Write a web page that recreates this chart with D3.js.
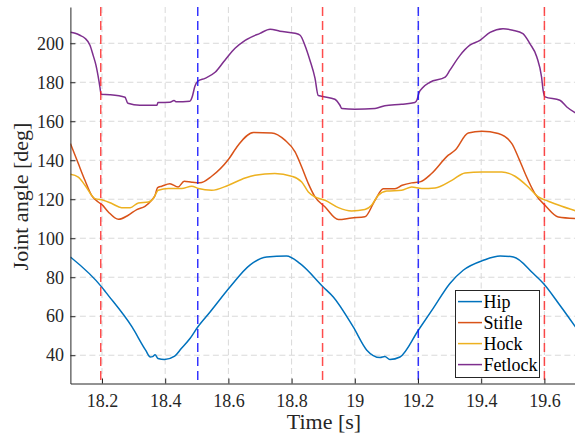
<!DOCTYPE html>
<html>
<head>
<meta charset="utf-8">
<script src="https://cdn.jsdelivr.net/npm/d3@7"></script>
</head>
<body style="margin:0">
<svg id="chart" width="575" height="439"></svg>
<script>
// time [s], angle [deg]
const hip = [
    [18.1, 90.4], [18.2, 74.8], [18.211, 72.5], [18.295, 54.5], [18.338, 42.6], [18.353, 39.1],
    [18.36, 39.3], [18.368, 40.2], [18.377, 38.3], [18.398, 37.8], [18.43, 39.5], [18.451, 43.4],
    [18.479, 48.7], [18.503, 54.5], [18.542, 62.2], [18.605, 75], [18.668, 86.2], [18.721, 90.4],
    [18.784, 90.9], [18.827, 87], [18.9, 75], [18.932, 69.9], [18.995, 54.5], [19.038, 42.6],
    [19.08, 38.8], [19.095, 39.3], [19.111, 37.8], [19.143, 39.1], [19.201, 52.8], [19.248, 64],
    [19.301, 76.8], [19.343, 83.6], [19.407, 88.7], [19.46, 90.9], [19.502, 90.4], [19.565, 81.9],
    [19.597, 76.8], [19.649, 65.6], [19.7, 54.1]
];
const stifle = [
    [18.1, 148.6], [18.125, 138.3], [18.146, 129.7], [18.167, 122], [18.188, 118.6], [18.199, 117.4],
    [18.22, 113.5], [18.252, 109.7], [18.283, 111.8], [18.31, 114.7], [18.336, 116.4], [18.357, 119.5],
    [18.368, 122], [18.376, 126], [18.389, 126.7], [18.415, 128], [18.441, 126.3], [18.46, 129.2],
    [18.484, 128.7], [18.51, 128.4], [18.547, 131.8], [18.6, 140.4], [18.631, 147.7], [18.679, 154.2],
    [18.737, 154], [18.779, 150.3], [18.811, 144.3], [18.832, 136.5], [18.853, 128], [18.874, 121.2],
    [18.906, 116], [18.948, 109.6], [18.99, 110.4], [19.032, 111], [19.064, 119.5], [19.09, 125.4],
    [19.127, 125.4], [19.15, 127.2], [19.18, 128.4], [19.206, 128.9], [19.243, 133.2], [19.296, 142.6],
    [19.317, 145.1], [19.359, 154], [19.402, 154.9], [19.454, 153.7], [19.497, 148.5], [19.517, 141.7],
    [19.539, 133.2], [19.57, 122.9], [19.602, 116.9], [19.644, 110.9], [19.7, 110.1]
];
const hock = [
    [18.1, 132.8], [18.125, 131.4], [18.146, 127.2], [18.178, 120.3], [18.204, 119.5], [18.231, 117.8],
    [18.262, 115.7], [18.289, 115.7], [18.315, 118.1], [18.347, 118.6], [18.362, 120.3], [18.378, 124.6],
    [18.41, 125.5], [18.452, 125.5], [18.484, 126.7], [18.505, 125.5], [18.547, 124.6], [18.6, 127.2],
    [18.653, 130.9], [18.684, 132.3], [18.747, 133.2], [18.8, 131.8], [18.832, 128.9], [18.853, 123.7],
    [18.874, 121.2], [18.906, 119.5], [18.948, 115.7], [18.99, 114], [19.032, 114.7], [19.053, 116.9],
    [19.074, 122], [19.101, 124.2], [19.148, 124.6], [19.18, 126.3], [19.212, 125.5], [19.254, 125.8],
    [19.307, 129.7], [19.349, 133.5], [19.402, 134], [19.465, 134], [19.507, 131.8], [19.549, 126.3],
    [19.581, 121.2], [19.612, 119], [19.655, 116.4], [19.7, 114]
];
const fetlock = [
    [18.1, 205.6], [18.115, 205.1], [18.13, 204.1], [18.146, 202.6], [18.162, 199], [18.172, 193.8],
    [18.181, 188.7], [18.19, 181], [18.194, 176.9], [18.197, 173.8], [18.225, 173.6], [18.273, 172.3],
    [18.276, 171.3], [18.282, 169.2], [18.32, 168.2], [18.374, 168.2], [18.377, 169.6], [18.415, 169.7],
    [18.428, 170.7], [18.434, 170], [18.478, 170.3], [18.485, 172.3], [18.494, 177.9], [18.503, 180.5],
    [18.526, 182], [18.558, 185.1], [18.589, 191.3], [18.621, 197.4], [18.653, 201.5], [18.7, 205.1],
    [18.732, 207.2], [18.763, 206.2], [18.811, 205.1], [18.827, 204.1], [18.842, 199], [18.858, 191.3],
    [18.874, 182.1], [18.884, 173.3], [18.896, 172.8], [18.937, 171.3], [18.953, 168.2], [18.959, 166.5],
    [19.0, 166.2], [19.064, 166.5], [19.095, 168], [19.148, 168.7], [19.19, 169.6], [19.197, 171],
    [19.203, 174.5], [19.213, 176.9], [19.238, 180], [19.286, 182.6], [19.301, 186.2], [19.333, 193.8],
    [19.364, 199], [19.396, 201.5], [19.428, 205.6], [19.469, 207.5], [19.5, 206.7], [19.532, 205],
    [19.554, 199.8], [19.576, 193], [19.591, 182.7], [19.596, 175.9], [19.602, 172.5], [19.649, 170.8],
    [19.671, 167.3], [19.7, 164.1]
];
const seriesNames = ["Hip", "Stifle", "Hock", "Fetlock"];
const seriesData = [hip, stifle, hock, fetlock];
const seriesColors = ["#0072BD", "#D95319", "#EDB120", "#7E2F8E"];

// event markers
const redLines = [18.196, 18.898, 19.6];
const blueLines = [18.503, 19.201];

const xTicks = [18.2, 18.4, 18.6, 18.8, 19, 19.2, 19.4, 19.6];
const yTicks = [40, 60, 80, 100, 120, 140, 160, 180, 200];

const serif = "'Liberation Serif'";

let svg = d3.select("#chart");
let xScale = d3.scaleLinear().domain([18.1, 19.7]).range([70.4, 576]);
let yScale = d3.scaleLinear().domain([25.5, 218.6]).range([383.5, 7]);

svg.append("clipPath").attr("id", "plotclip").append("rect")
    .attr("x", 70.4).attr("y", 7).attr("width", 506).attr("height", 376.5);

// grid
let grid = svg.append("g");
grid.selectAll(".gx").data(xTicks).join("line").attr("class", "gx")
    .attr("x1", d => xScale(d)).attr("x2", d => xScale(d))
    .attr("y1", yScale.range()[0]).attr("y2", yScale.range()[1]);
grid.selectAll(".gy").data(yTicks).join("line").attr("class", "gy")
    .attr("x1", xScale.range()[0]).attr("x2", xScale.range()[1])
    .attr("y1", d => yScale(d)).attr("y2", d => yScale(d));
grid.selectAll("line").attr("stroke", "#d9d9d9").attr("stroke-width", 1)
    .attr("stroke-dasharray", "6,3.5");

// curves
let lineGenerator = d3.line()
    .x(d => xScale(d[0]))
    .y(d => yScale(d[1]))
    .curve(d3.curveMonotoneX);
let plot = svg.append("g").attr("clip-path", "url(#plotclip)");
plot.selectAll(".joint").data(seriesData).join("path").attr("class", "joint")
    .attr("d", d => lineGenerator(d))
    .attr("fill", "none")
    .attr("stroke", (d, i) => seriesColors[i])
    .attr("stroke-width", 1.5)
    .attr("stroke-linejoin", "round");

// dashed event lines
plot.selectAll(".redline").data(redLines).join("line").attr("class", "redline")
    .attr("x1", d => xScale(d)).attr("x2", d => xScale(d))
    .attr("y1", yScale.range()[1]).attr("y2", yScale.range()[0])
    .attr("stroke", "#ff2020").attr("stroke-opacity", 0.8).attr("stroke-width", 1.5)
    .attr("stroke-dasharray", "9,5");
plot.selectAll(".blueline").data(blueLines).join("line").attr("class", "blueline")
    .attr("x1", d => xScale(d)).attr("x2", d => xScale(d))
    .attr("y1", yScale.range()[1]).attr("y2", yScale.range()[0])
    .attr("stroke", "#1010ff").attr("stroke-opacity", 0.85).attr("stroke-width", 1.5)
    .attr("stroke-dasharray", "9,5");

// axes (ticks point inward)
let xAxis = d3.axisBottom(xScale).tickValues(xTicks).tickSizeInner(-5).tickSizeOuter(0)
    .tickPadding(10.5).tickFormat(d => d);
let yAxis = d3.axisLeft(yScale).tickValues(yTicks).tickSizeInner(-5).tickSizeOuter(0)
    .tickPadding(6.5);
let gx = svg.append("g").attr("transform", "translate(0,383.5)").call(xAxis);
let gy = svg.append("g").attr("transform", "translate(70.4,0)").call(yAxis);
[gx, gy].forEach(g => {
    g.attr("font-family", null).attr("font-size", null);
    g.selectAll("path, line").attr("stroke", "#262626");
    g.selectAll("text").style("font-family", serif).style("font-size", "18px")
        .attr("fill", "#262626");
});

svg.append("text").attr("x", 324).attr("y", 428.5)
    .style("font-family", serif).style("font-size", "22px").attr("fill", "#262626")
    .attr("text-anchor", "middle").text("Time [s]");
svg.append("text")
    .attr("transform", "translate(28,196.5) rotate(-90)")
    .style("font-family", serif).style("font-size", "22px").attr("fill", "#262626")
    .attr("text-anchor", "middle").text("Joint angle [deg]");

// legend
let legend = svg.append("g");
legend.append("rect").attr("x", 455.5).attr("y", 290.5).attr("width", 84).attr("height", 87)
    .attr("fill", "#fff").attr("stroke", "#262626").attr("stroke-width", 1);
seriesNames.forEach((name, i) => {
    let cy = 301.6 + i * 21;
    legend.append("line").attr("x1", 458).attr("x2", 482).attr("y1", cy).attr("y2", cy)
        .attr("stroke", seriesColors[i]).attr("stroke-width", 1.5);
    legend.append("text").attr("x", 483.5).attr("y", cy).attr("dy", "0.35em")
        .style("font-family", serif).style("font-size", "18px").attr("fill", "#000")
        .text(name);
});
</script>
</body>
</html>
